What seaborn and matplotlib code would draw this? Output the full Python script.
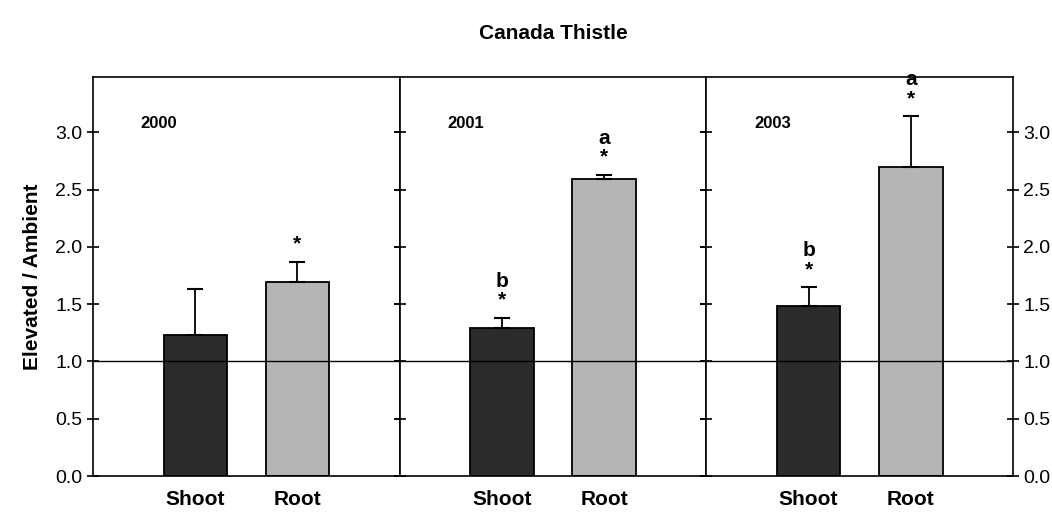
import matplotlib
matplotlib.use("Agg")
import matplotlib.pyplot as plt
import pandas as pd
import seaborn as sns

# Data
years = ["2000", "2001", "2003"]
parts = ["Shoot", "Root"]
shoot_ratio = [1.23, 1.29, 1.48]
root_ratio = [1.69, 2.59, 2.70]
shoot_err = [0.40, 0.09, 0.17]
root_err = [0.18, 0.04, 0.44]
shoot_marks = ["", "b\n*", "b\n*"]
root_marks = ["*", "a\n*", "a\n*"]

sns.set_theme(style="white")
plt.rcParams["font.family"] = ["Liberation Sans", "DejaVu Sans"]
plt.rcParams["text.color"] = "black"
plt.rcParams["xtick.color"] = "black"
plt.rcParams["ytick.color"] = "black"
plt.rcParams["axes.labelcolor"] = "black"

fig, axes = plt.subplots(1, 3, figsize=(10.52, 5.15), dpi=100, sharey=True)
fig.subplots_adjust(left=0.0884, right=0.963, bottom=0.0757, top=0.850, wspace=0)

colors = {"Shoot": "#2b2b2b", "Root": "#b5b5b5"}

for i, ax in enumerate(axes):
    df = pd.DataFrame({"part": parts,
                       "ratio": [shoot_ratio[i], root_ratio[i]],
                       "err": [shoot_err[i], root_err[i]],
                       "mark": [shoot_marks[i], root_marks[i]]})
    sns.barplot(data=df, x="part", y="ratio", hue="part", palette=colors,
                width=0.62, edgecolor="black", linewidth=1.3, ax=ax, legend=False)
    ax.errorbar(range(len(df)), df["ratio"], yerr=[[0] * len(df), df["err"]],
                fmt="none", ecolor="black", elinewidth=1.3, capsize=5.5, capthick=1.5)
    ax.axhline(1.0, color="black", linewidth=1.0, zorder=5)
    for j, row in df.iterrows():
        if row["mark"]:
            ax.text(j, row["ratio"] + row["err"] + 0.07, row["mark"], ha="center", va="bottom",
                    fontsize=15, fontweight="bold", linespacing=1.0)
    ax.text(0.155, 0.885, years[i], transform=ax.transAxes, fontsize=12,
            fontweight="bold", ha="left", va="center")
    ax.set_xlim(-1, 2)
    ax.set_ylim(0, 3.48)
    ax.set_yticks([0, 0.5, 1.0, 1.5, 2.0, 2.5, 3.0])
    ax.set_xlabel("")
    ax.set_ylabel("")
    for s in ax.spines.values():
        s.set_color("black")
        s.set_linewidth(1.2)
    ax.tick_params(axis="x", length=0, labelsize=15, pad=10)
    for lab in ax.get_xticklabels():
        lab.set_fontweight("bold")
    ax.tick_params(axis="y", direction="inout", length=8, width=1.2, color="black",
                   left=True, right=True, labelleft=(i == 0), labelright=(i == 2),
                   labelsize=14)

axes[0].set_yticklabels(["0.0", "0.5", "1.0", "1.5", "2.0", "2.5", "3.0"])
axes[0].set_ylabel("Elevated / Ambient", fontsize=15, fontweight="bold", labelpad=10)
fig.text(0.526, 0.935, "Canada Thistle", ha="center", va="center", fontsize=15, fontweight="bold")

fig.savefig("out.png", dpi=100, facecolor="white")
